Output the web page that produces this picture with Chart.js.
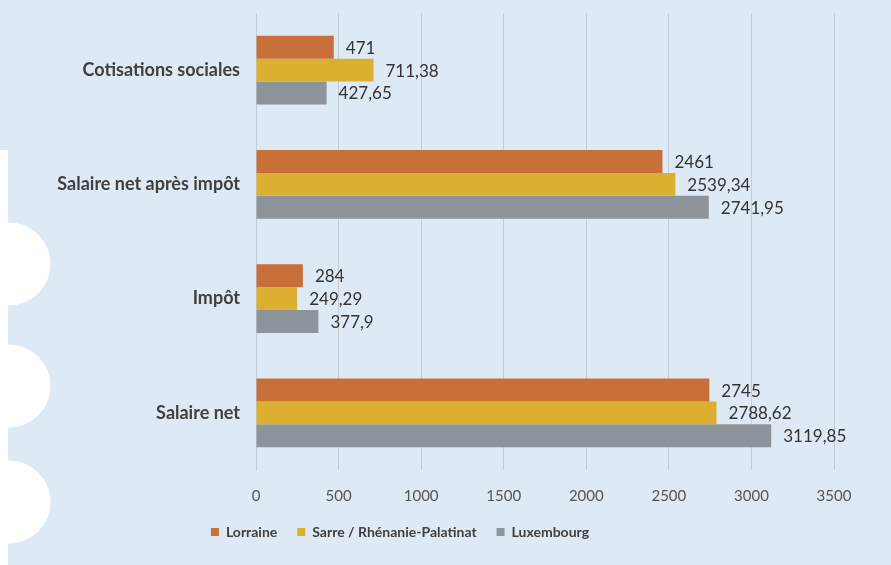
<!DOCTYPE html>
<html>
<head>
<meta charset="utf-8">
<script src="https://cdn.jsdelivr.net/npm/chart.js@4"></script>
<style>
  html, body { margin: 0; padding: 0; background: #dde9f5; }
  #wrap { width: 891px; height: 565px; }
</style>
</head>
<body>
<div id="wrap"><canvas id="myChart" width="891" height="565"></canvas></div>
<script>
// data
var categories = ["Cotisations sociales", "Salaire net après impôt", "Impôt", "Salaire net"];
var lorraine = [471, 2461, 284, 2745];
var sarre = [711.38, 2539.34, 249.29, 2788.62];
var luxembourg = [427.65, 2741.95, 377.9, 3119.85];
var seriesNames = ["Lorraine", "Sarre / Rhénanie-Palatinat", "Luxembourg"];
var xTicks = [0, 500, 1000, 1500, 2000, 2500, 3000, 3500];

var fontName = "Lato, 'DejaVu Sans', sans-serif";

// background with the punched holes on the left
var paperPlugin = {
  id: 'paper',
  beforeDraw: function (chart) {
    var ctx = chart.ctx;
    ctx.save();
    ctx.fillStyle = '#dde9f5';
    ctx.fillRect(0, 0, chart.width, chart.height);
    ctx.fillStyle = '#ffffff';
    ctx.fillRect(0, 150, 8, chart.height - 150);
    [264, 386, 502].forEach(function (cy) {
      ctx.beginPath();
      ctx.arc(9, cy, 41.5, 0, Math.PI * 2);
      ctx.fill();
    });
    ctx.restore();
  }
};

// put the legend where it is in the original
var legendShift = {
  id: 'legendShift',
  afterLayout: function (chart) {
    var lg = chart.legend;
    var h = lg.bottom - lg.top;
    lg.left -= 17;
    lg.right -= 17;
    lg.top = 505;
    lg.bottom = 505 + h;
  }
};

// value labels at the end of each bar, French decimal comma
var valueLabels = {
  id: 'valueLabels',
  afterDatasetsDraw: function (chart) {
    var ctx = chart.ctx;
    ctx.save();
    ctx.font = '17px ' + fontName;
    ctx.fillStyle = '#333333';
    ctx.textAlign = 'left';
    ctx.textBaseline = 'middle';
    chart.data.datasets.forEach(function (ds, i) {
      chart.getDatasetMeta(i).data.forEach(function (bar, j) {
        var txt = String(ds.data[j]).replace('.', ',');
        ctx.fillText(txt, bar.x + 12, bar.y + 1);
      });
    });
    ctx.restore();
  }
};

new Chart("myChart", {
  type: "bar",
  data: {
    labels: categories,
    datasets: [
      { label: seriesNames[0], data: lorraine, backgroundColor: "#c9703a" },
      { label: seriesNames[1], data: sarre, backgroundColor: "#dbb031" },
      { label: seriesNames[2], data: luxembourg, backgroundColor: "#8e949b" }
    ]
  },
  options: {
    indexAxis: 'y',
    responsive: false,
    animation: false,
    devicePixelRatio: 1,
    categoryPercentage: 0.6,
    barPercentage: 1.0,
    layout: { padding: { left: 0, right: 57, top: 13, bottom: 0 } },
    scales: {
      x: {
        min: 0,
        max: 3500,
        afterBuildTicks: function (scale) {
          scale.ticks = xTicks.map(function (v) { return { value: v }; });
        },
        afterFit: function (scale) { scale.height = 51; },
        grid: { color: '#c6ccd3', drawTicks: false },
        border: { display: false },
        ticks: {
          color: '#555555',
          font: { family: fontName, size: 15 },
          padding: 17,
          callback: function (v) { return String(v); }
        }
      },
      y: {
        afterFit: function (scale) {
          scale.width = 256;
          scale.paddingTop = 0;
          scale.paddingBottom = 0;
        },
        grid: { display: false, drawTicks: false },
        border: { display: true, color: '#c6ccd3' },
        ticks: { color: '#404040', font: { family: fontName, size: 18, weight: 'bold' }, padding: 16 }
      }
    },
    plugins: {
      legend: {
        position: 'bottom',
        labels: {
          boxWidth: 8,
          boxHeight: 8,
          padding: 20,
          color: '#404040',
          font: { family: fontName, size: 14, weight: 'bold' }
        }
      },
      tooltip: { enabled: false }
    }
  },
  plugins: [paperPlugin, legendShift, valueLabels]
});
</script>
</body>
</html>
